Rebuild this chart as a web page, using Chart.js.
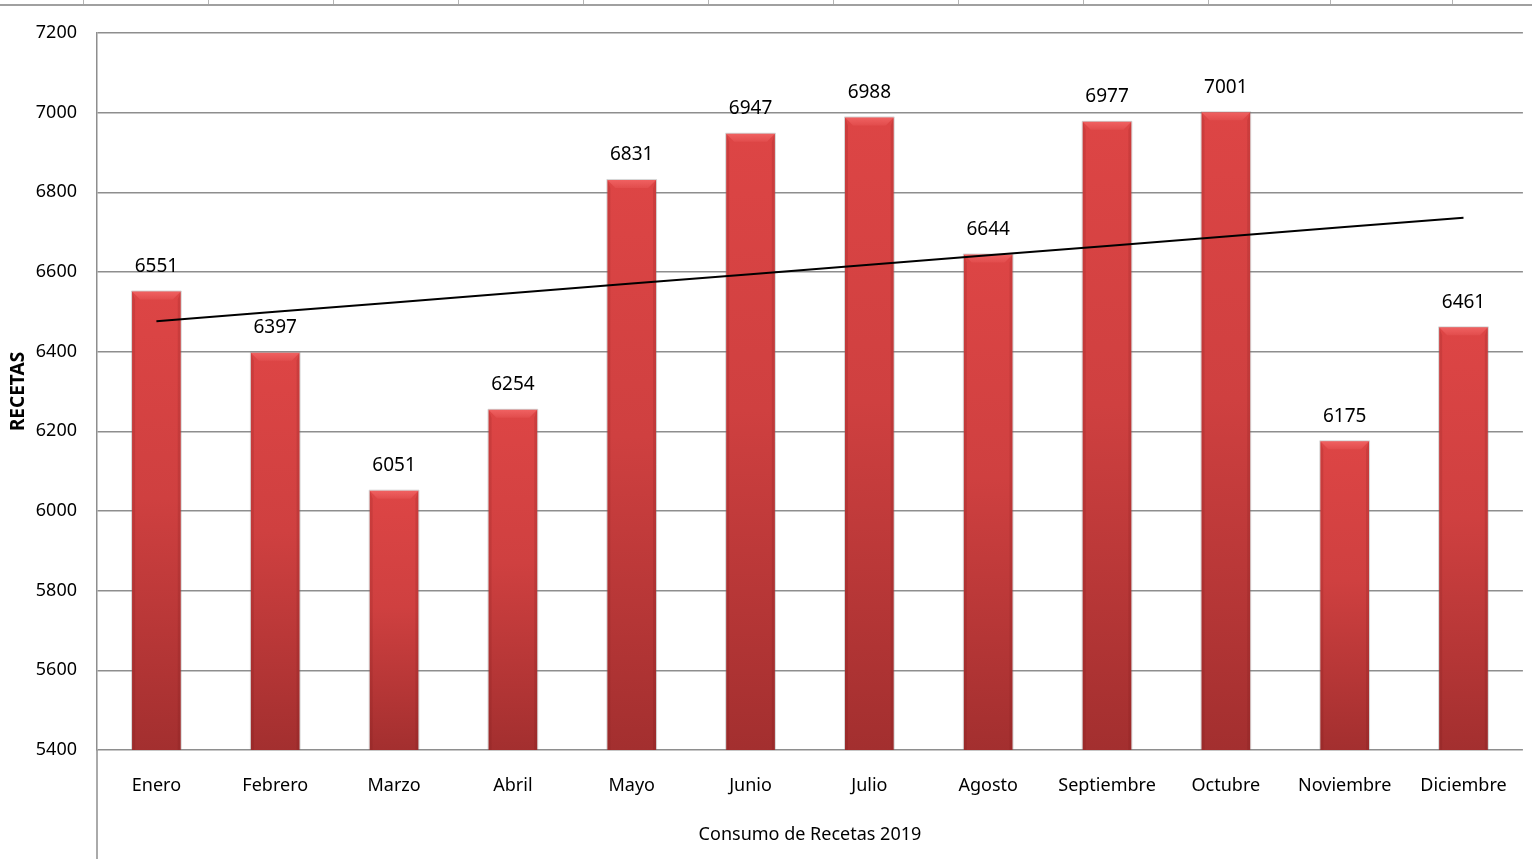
<!DOCTYPE html>
<html>
<head>
<meta charset="utf-8">
<script src="https://cdn.jsdelivr.net/npm/chart.js@4"></script>
<style>
    html, body { margin: 0; padding: 0; background: #ffffff; }
    #wrap { width: 1532px; height: 859px; }
</style>
</head>
<body>
<div id="wrap"><canvas id="recetasChart" width="1532" height="859"></canvas></div>
<script>
const months = ["Enero", "Febrero", "Marzo", "Abril", "Mayo", "Junio", "Julio", "Agosto", "Septiembre", "Octubre", "Noviembre", "Diciembre"];
const recetas = [6551, 6397, 6051, 6254, 6831, 6947, 6988, 6644, 6977, 7001, 6175, 6461];
const yTicks = [5400, 5600, 5800, 6000, 6200, 6400, 6600, 6800, 7000, 7200];

const baseFont = "'Noto Sans', 'Open Sans', sans-serif";
const gridColor = "#8e8e8e";

// linear trendline (least squares), like Excel's "Lineal"
function linearTrend(values) {
    const n = values.length;
    const meanX = (n - 1) / 2;
    const meanY = values.reduce((a, b) => a + b, 0) / n;
    let sxy = 0;
    let sxx = 0;
    values.forEach((v, i) => {
        sxy += (i - meanX) * (v - meanY);
        sxx += (i - meanX) * (i - meanX);
    });
    const slope = sxy / sxx;
    return values.map((v, i) => meanY + slope * (i - meanX));
}

function barFill(context) {
    const chart = context.chart;
    const yScale = chart.scales.y;
    if (!chart.chartArea || !yScale || context.parsed === undefined) {
        return "#c83c3c";
    }
    const top = yScale.getPixelForValue(context.parsed.y);
    const bottom = yScale.getPixelForValue(yScale.min);
    const g = chart.ctx.createLinearGradient(0, top, 0, bottom);
    g.addColorStop(0, "#dd4545");
    g.addColorStop(0.45, "#cf4040");
    g.addColorStop(1, "#a32f2f");
    return g;
}

const sheetFrame = {
    id: "sheetFrame",
    beforeDraw(chart) {
        const { ctx, width } = chart;
        ctx.save();
        ctx.strokeStyle = "#b4b4b4";
        ctx.lineWidth = 1;
        [83, 208, 333, 458, 583, 708, 833, 958, 1083, 1208, 1330, 1452].forEach((x) => {
            ctx.beginPath();
            ctx.moveTo(x + 0.5, 0);
            ctx.lineTo(x + 0.5, 4);
            ctx.stroke();
        });
        ctx.strokeStyle = "#a0a0a0";
        ctx.lineWidth = 2;
        ctx.beginPath();
        ctx.moveTo(0, 5);
        ctx.lineTo(width, 5);
        ctx.stroke();
        ctx.restore();
    },
    afterDraw(chart) {
        const { ctx, chartArea, height } = chart;
        ctx.save();
        ctx.strokeStyle = gridColor;
        ctx.lineWidth = 1.5;
        ctx.beginPath();
        ctx.moveTo(chartArea.left, chartArea.bottom);
        ctx.lineTo(chartArea.left, height);
        ctx.stroke();
        ctx.restore();
    }
};

const bevelAndLabels = {
    id: "bevelAndLabels",
    afterDatasetDraw(chart, args) {
        if (args.index !== 0) {
            return;
        }
        const { ctx, chartArea } = chart;
        const meta = chart.getDatasetMeta(0);
        ctx.save();
        meta.data.forEach((bar, i) => {
            const w = bar.width;
            const left = bar.x - w / 2;
            const right = bar.x + w / 2;
            const top = bar.y;
            const bottom = Math.min(bar.base, chartArea.bottom);
            const b = 8;
            // top bevel
            const bev = ctx.createLinearGradient(0, top, 0, top + b);
            bev.addColorStop(0, "rgba(255, 120, 120, 0.55)");
            bev.addColorStop(1, "rgba(255, 120, 120, 0.15)");
            ctx.fillStyle = bev;
            ctx.beginPath();
            ctx.moveTo(left, top);
            ctx.lineTo(right, top);
            ctx.lineTo(right - b, top + b);
            ctx.lineTo(left + b, top + b);
            ctx.closePath();
            ctx.fill();
            // side shading
            ctx.fillStyle = "rgba(110, 20, 20, 0.15)";
            ctx.beginPath();
            ctx.moveTo(left, top);
            ctx.lineTo(left + 3, top + b);
            ctx.lineTo(left + 3, bottom);
            ctx.lineTo(left, bottom);
            ctx.closePath();
            ctx.fill();
            ctx.beginPath();
            ctx.moveTo(right, top);
            ctx.lineTo(right - 3, top + b);
            ctx.lineTo(right - 3, bottom);
            ctx.lineTo(right, bottom);
            ctx.closePath();
            ctx.fill();
            // outer soft edge
            ctx.strokeStyle = "rgba(120, 120, 120, 0.3)";
            ctx.lineWidth = 1;
            ctx.beginPath();
            ctx.moveTo(left - 0.5, bottom);
            ctx.lineTo(left - 0.5, top - 0.5);
            ctx.lineTo(right + 0.5, top - 0.5);
            ctx.lineTo(right + 0.5, bottom);
            ctx.stroke();

            ctx.fillStyle = "#000000";
            ctx.font = "19px " + baseFont;
            ctx.textAlign = "center";
            ctx.textBaseline = "middle";
            ctx.fillText(String(recetas[i]), bar.x, top - 25);
        });
        ctx.restore();
    }
};

new Chart(document.getElementById("recetasChart"), {
    type: "bar",
    data: {
        labels: months,
        datasets: [
            {
                label: "Recetas",
                data: recetas,
                backgroundColor: barFill,
                borderWidth: 0,
                barPercentage: 0.41,
                categoryPercentage: 1,
                order: 2
            },
            {
                type: "line",
                label: "Lineal (Recetas)",
                data: linearTrend(recetas),
                borderColor: "#000000",
                borderWidth: 2,
                pointRadius: 0,
                fill: false,
                tension: 0,
                order: 1
            }
        ]
    },
    options: {
        responsive: false,
        animation: false,
        devicePixelRatio: 1,
        layout: {
            padding: { top: 33, right: 8, left: 0, bottom: 0 }
        },
        plugins: {
            legend: { display: false },
            tooltip: { enabled: false },
            title: { display: false }
        },
        scales: {
            x: {
                grid: { display: false, drawTicks: false },
                border: { display: false },
                ticks: {
                    color: "#000000",
                    padding: 25,
                    font: { family: baseFont, size: 18 },
                    maxRotation: 0,
                    autoSkip: false
                },
                title: {
                    display: true,
                    text: "Consumo de Recetas 2019",
                    color: "#000000",
                    font: { family: baseFont, size: 18 },
                    padding: { top: 0, bottom: 13 }
                },
                afterFit: (scale) => {
                    scale.height = 109;
                }
            },
            y: {
                min: 5400,
                max: 7200,
                afterBuildTicks: (scale) => {
                    scale.ticks = yTicks.map((value) => ({ value }));
                },
                grid: {
                    color: gridColor,
                    lineWidth: 1.5,
                    drawTicks: false
                },
                border: { display: true, color: gridColor, width: 1.5 },
                ticks: {
                    color: "#000000",
                    padding: 20,
                    font: { family: baseFont, size: 18 },
                    callback: (value) => String(value)
                },
                title: {
                    display: true,
                    text: "RECETAS",
                    color: "#000000",
                    font: { family: baseFont, size: 19, weight: "bold" },
                    padding: { top: 7, bottom: 0 }
                },
                afterFit: (scale) => {
                    scale.width = 97;
                }
            }
        }
    },
    plugins: [sheetFrame, bevelAndLabels]
});
</script>
</body>
</html>
